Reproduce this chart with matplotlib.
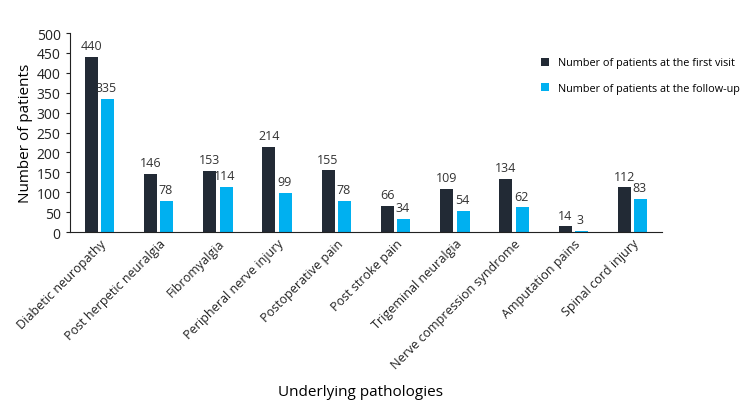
import numpy as np
import matplotlib
matplotlib.use("Agg")
import matplotlib.pyplot as plt

plt.rcParams["font.family"] = ["Open Sans", "DejaVu Sans"]

categories = [
    "Diabetic neuropathy",
    "Post herpetic neuralgia",
    "Fibromyalgia",
    "Peripheral nerve injury",
    "Postoperative pain",
    "Post stroke pain",
    "Trigeminal neuralgia",
    "Nerve compression syndrome",
    "Amputation pains",
    "Spinal cord injury",
]
first_visit = [440, 146, 153, 214, 155, 66, 109, 134, 14, 112]
follow_up = [335, 78, 114, 99, 78, 34, 54, 62, 3, 83]

DARK = "#222A35"
BLUE = "#00B0F0"

fig = plt.figure(figsize=(7.5, 4.06), dpi=100)
ax = fig.add_axes([0.093, 0.426, 0.79, 0.49])

x = np.arange(len(categories))
w = 0.22
off = 0.14

ax.bar(x - off, first_visit, w, color=DARK,
       label="Number of patients at the first visit")
ax.bar(x + off, follow_up, w, color=BLUE,
       label="Number of patients at the follow-up")

# value labels above the bars
for xi, v in zip(x, first_visit):
    ax.text(xi - off, v + 12, str(v), ha="center", va="bottom",
            fontsize=9, color="#333333")
for xi, v in zip(x, follow_up):
    ax.text(xi + off - 0.02, v + 12, str(v), ha="center", va="bottom",
            fontsize=9, color="#333333")

ax.set_xlim(-0.5, len(categories) - 0.5)
ax.set_ylim(0, 500)
ax.set_yticks(range(0, 501, 50))
ax.tick_params(axis="y", labelsize=10, length=3, colors="#222222")
ax.tick_params(axis="x", length=0, labelsize=9, colors="#222222")
ax.set_xticks(x)
ax.set_xticklabels(categories, rotation=45, ha="right", rotation_mode="anchor")

for s in ["top", "right"]:
    ax.spines[s].set_visible(False)
for s in ["left", "bottom"]:
    ax.spines[s].set_color("#222222")

ax.set_ylabel("Number of patients", fontsize=11, labelpad=3)
fig.text(0.48, 0.025, "Underlying pathologies", ha="center", fontsize=11)

fig.legend(loc="upper left", bbox_to_anchor=(0.708, 0.88), frameon=False,
           fontsize=7.8, handlelength=0.8, handleheight=0.8,
           labelspacing=1.3, handletextpad=0.8)

fig.savefig("out.png", dpi=100)
